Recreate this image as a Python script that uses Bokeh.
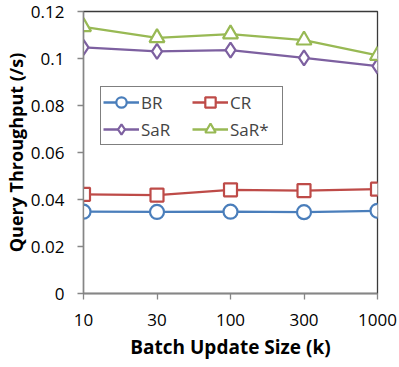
from bokeh.plotting import figure
from bokeh.models import Range1d, FixedTicker, NumeralTickFormatter, Legend, LegendItem
from bokeh.embed import file_html
from bokeh.resources import INLINE

batch_sizes = ["10", "30", "100", "300", "1000"]
br = [0.0348, 0.0347, 0.0348, 0.0346, 0.0352]
cr = [0.0422, 0.0419, 0.0441, 0.0438, 0.0444]
sar = [0.1047, 0.1030, 0.1036, 0.1003, 0.0968]
sar_star = [0.1135, 0.1088, 0.1104, 0.1078, 0.1013]
y_ticks = [0, 0.02, 0.04, 0.06, 0.08, 0.10, 0.12]

xs = list(range(len(batch_sizes)))
FONT = "Open Sans"

p = figure(width=399, height=367, output_backend="svg", toolbar_location=None,
           x_range=Range1d(0, len(batch_sizes) - 1), y_range=Range1d(0, 0.12),
           min_border_left=82, min_border_right=22, min_border_top=11, min_border_bottom=74)
p.background_fill_color = "white"
p.border_fill_color = "white"
p.outline_line_color = "#3a3a3a"
p.outline_line_width = 1.3
p.xgrid.visible = False
p.ygrid.visible = False

for ax in (p.xaxis[0], p.yaxis[0]):
    ax.axis_line_color = "#868686"
    ax.axis_line_width = 1.3
    ax.major_tick_line_color = "#868686"
    ax.major_tick_line_width = 1.3
    ax.major_tick_out = 6
    ax.major_tick_in = 0
    ax.minor_tick_line_color = None
    ax.major_label_text_font = FONT
    ax.major_label_text_font_size = "17px"
    ax.major_label_text_color = "black"
    ax.axis_label_text_font = FONT
    ax.axis_label_text_font_size = "18px"
    ax.axis_label_text_font_style = "bold"
    ax.axis_label_text_color = "black"

p.xaxis.ticker = FixedTicker(ticks=xs)
p.xaxis.major_label_overrides = {i: s for i, s in enumerate(batch_sizes)}
p.xaxis.axis_label = "Batch Update Size (k)"
p.xaxis.axis_label_text_font_size = "19px"
p.xaxis.major_label_standoff = 14
p.xaxis.axis_label_standoff = 5

p.yaxis.ticker = FixedTicker(ticks=y_ticks)
p.yaxis.formatter = NumeralTickFormatter(format="0.[00]")
p.yaxis.axis_label = "Query Throughput (/s)"
p.yaxis.major_label_standoff = 13
p.yaxis.axis_label_standoff = 0

series = [
    ("BR", br, "#4A7EBB", "circle", 14),
    ("CR", cr, "#BE4B48", "square", 13),
    ("SaR", sar, "#7D60A0", "diamond", 15),
    ("SaR*", sar_star, "#98B954", "triangle", 15),
]

items = {}
for name, ys, color, marker, size in series:
    ln = p.line(xs, ys, line_color=color, line_width=2.3)
    sc = p.scatter(xs, ys, marker=marker, size=size, line_color=color,
                   line_width=2.2, fill_color="white")
    items[name] = LegendItem(label=name, renderers=[ln, sc])

# column-major fill: order so that rows read BR CR / SaR SaR*
legend = Legend(items=[items["BR"], items["SaR"], items["CR"], items["SaR*"]],
                ncols=2, location=(17, 148),
                label_text_font=FONT, label_text_font_size="17px",
                glyph_width=36, glyph_height=26, label_height=26,
                label_width=50, label_standoff=2, spacing=1, padding=2,
                border_line_color="black", border_line_width=1.3,
                background_fill_alpha=1.0, margin=0)
p.add_layout(legend, "center")

open("out.html", "w").write(file_html(p, INLINE))
